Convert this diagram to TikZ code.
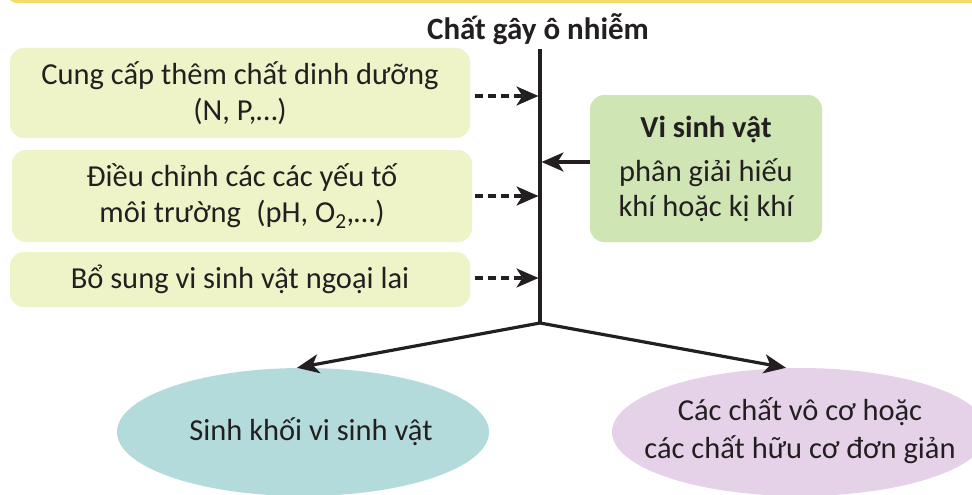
\documentclass[tikz,border=0pt]{standalone}
\usepackage{fontspec}
\setmainfont{Carlito}
\usetikzlibrary{shapes.geometric,arrows.meta}
\definecolor{ybox}{HTML}{EEF3C8}
\definecolor{gbox}{HTML}{CFE6B4}
\definecolor{tealell}{HTML}{B4DBDC}
\definecolor{lilac}{HTML}{E5D2E9}
\definecolor{txt}{HTML}{231F20}
\definecolor{topbar}{HTML}{F4DC6A}
\tikzset{
  yfill/.style={rounded corners=14pt, fill=ybox, minimum width=460pt, align=center, text=txt, font=\fontsize{30.5}{36}\selectfont},
  gfill/.style={rounded corners=14pt, fill=gbox, minimum width=232pt, minimum height=147pt, align=center, text=txt, font=\fontsize{30.5}{35}\selectfont},
  ell/.style={ellipse, minimum width=372pt, minimum height=128pt, inner sep=0pt},
  elltext/.style={align=center, text=txt, font=\fontsize{30.5}{38}\selectfont},
  conn/.style={line width=3.2pt, draw=txt},
  tip/.style={-{Stealth[length=22pt,width=19pt,inset=6pt]}},
  dconn/.style={conn, tip, dash pattern=on 8pt off 5pt}
}
\begin{document}
\begin{tikzpicture}[x=1pt,y=-1pt]
\useasboundingbox (0,0) rectangle (972,495);
\clip (0,0) rectangle (972,495);
\fill[white] (0,0) rectangle (972,495);
% top bar
\draw[topbar, line width=3.5pt, rounded corners=10pt] (8,-20) -- (8,1.5) -- (990,1.5);

\node[text=txt, font=\fontsize{31}{34}\selectfont\bfseries] (title) at (538,29) {Chất gây ô nhiễm};

\node[yfill, minimum height=90pt] (b1) at (240,93) {Cung cấp thêm chất dinh dưỡng\\(N, P,…)};
\node[yfill, minimum height=92pt] (b2) at (242,196) {Điều chỉnh các các yếu tố\\môi trường\enspace(pH, O\textsubscript{2},…)};
\node[yfill, minimum height=55pt] (b3) at (240,279.5) {Bổ sung vi sinh vật ngoại lai};

\node[gfill] (vsv) at (706,168.5) {\textbf{Vi sinh vật}\\[9pt]phân giải hiếu\\khí hoặc kị khí};

\node[ell, fill=tealell] (e1) at (303,432) {};
\node[elltext] (e1t) at (311,432) {Sinh khối vi sinh vật};
\node[ell, fill=lilac, minimum width=376pt] (e2) at (800,432) {};
\node[elltext] (e2t) at (800,431) {Các chất vô cơ hoặc\\các chất hữu cơ đơn giản};

\coordinate (top) at (540,49);
\coordinate (junc) at (540,323);
\coordinate (t1) at (538.5,96);
\coordinate (t2) at (538.5,196);
\coordinate (t3) at (538.5,278);
\coordinate (tv) at (541.5,162);

\draw[conn] (top) -- (junc);
\draw[dconn] ([xshift=5pt]b1.east |- t1) -- (t1);
\draw[dconn] ([xshift=3pt]b2.east |- t2) -- (t2);
\draw[dconn] ([xshift=5pt]b3.east |- t3) -- (t3);
\draw[conn, tip] (vsv.west |- tv) -- (tv);
\draw[conn, tip] (junc) -- ([xshift=-6pt]e1.north);
\draw[conn, tip] (junc) -- ([xshift=-14pt]e2.north);
\end{tikzpicture}
\end{document}
